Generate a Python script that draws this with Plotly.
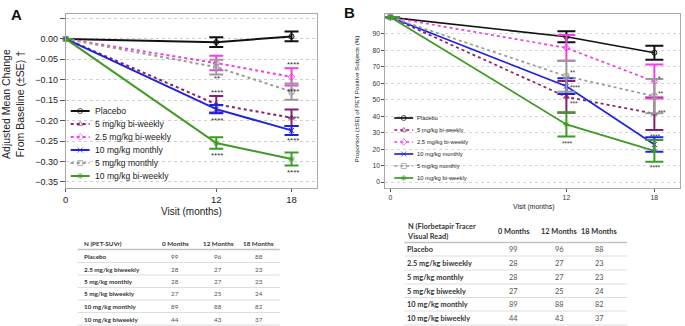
import plotly.graph_objects as go

W, H = 685, 326

# ---------------------------------------------------------------- data
months = [0, 12, 18]

series_names = ["Placebo", "5 mg/kg bi-weekly", "2.5 mg/kg bi-weekly",
                "10 mg/kg monthly", "5 mg/kg monthly", "10 mg/kg bi-weekly"]

# Panel A: adjusted mean change from baseline in PET-SUVr
suvr_placebo = [0.0, -0.008, 0.006]
suvr_5_biweekly = [0.0, -0.160, -0.193]
suvr_2p5_biweekly = [0.0, -0.059, -0.093]
suvr_10_monthly = [0.0, -0.172, -0.224]
suvr_5_monthly = [0.0, -0.069, -0.129]
suvr_10_biweekly = [0.0, -0.255, -0.294]

suvr_se_placebo = [None, 0.012, 0.012]
suvr_se_5_biweekly = [None, 0.020, 0.020]
suvr_se_2p5_biweekly = [None, 0.018, 0.021]
suvr_se_10_monthly = [None, 0.010, 0.011]
suvr_se_5_monthly = [None, 0.018, 0.020]
suvr_se_10_biweekly = [None, 0.014, 0.016]

# Panel B: proportion of PET positive subjects (%)
pos_placebo = [100.0, 88.2, 78.5]
pos_5_biweekly = [100.0, 51.7, 41.5]
pos_2p5_biweekly = [100.0, 81.4, 61.0]
pos_10_monthly = [100.0, 58.2, 22.8]
pos_5_monthly = [100.0, 64.2, 52.1]
pos_10_biweekly = [100.0, 35.0, 18.9]

pos_se_placebo = [None, 3.3, 4.2]
pos_se_5_biweekly = [None, 9.7, 9.9]
pos_se_2p5_biweekly = [None, 7.8, 10.3]
pos_se_10_monthly = [None, 4.8, 4.4]
pos_se_5_monthly = [None, 9.4, 10.4]
pos_se_10_biweekly = [None, 7.3, 6.6]

# significance marks
sig_a_month = [12, 12, 12, 12, 18, 18, 18, 18, 18]
sig_a_level = [-0.092, -0.127, -0.194, -0.280, -0.057, -0.125, -0.191, -0.245, -0.323]
sig_a_marks = ["**", "****", "****", "****", "****", "****", "****", "****", "****"]

sig_b_month = [12, 12, 12, 12, 18, 18, 18, 18, 18]
sig_b_level = [67.5, 58.4, 48.7, 24.9, 63.9, 54.8, 43.7, 28.9, 9.9]
sig_b_marks = ["**", "****", "***", "****", "*", "**", "***", "****", "****"]
sig_b_side = ["right", "right", "right", "below", "right", "right", "right", "below", "below"]

# sample size tables
table_groups = ["Placebo", "2.5 mg/kg biweekly", "5 mg/kg monthly",
                "5 mg/kg biweekly", "10 mg/kg monthly", "10 mg/kg biweekly"]
table_columns = ["0 Months", "12 Months", "18 Months"]
n_suvr_0 = [99, 28, 28, 27, 89, 44]
n_suvr_12 = [96, 27, 27, 25, 88, 43]
n_suvr_18 = [88, 23, 23, 24, 82, 37]
n_visual_0 = [99, 28, 28, 27, 89, 44]
n_visual_12 = [96, 27, 27, 25, 88, 43]
n_visual_18 = [88, 23, 23, 24, 82, 37]

a_yticks = [0.05, 0.0, -0.05, -0.10, -0.15, -0.20, -0.25, -0.30, -0.35]
b_yticks = [0, 10, 20, 30, 40, 50, 60, 70, 80, 90]
x_ticks = [0, 12, 18]

# ---------------------------------------------------------------- styles
FONT = "Liberation Sans"
TFONT = "Lato"
colors = ["#111111", "#86206f", "#f23ee6", "#1e22e4", "#9a9a9a", "#3d9a25"]
dashes = ["solid", "dot", "dot", "solid", "dot", "solid"]
symbols = ["circle-open", "triangle-up-open", "diamond-open",
           "x-thin-open", "square-open", "asterisk-open"]

a_values = [suvr_placebo, suvr_5_biweekly, suvr_2p5_biweekly,
            suvr_10_monthly, suvr_5_monthly, suvr_10_biweekly]
a_errors = [suvr_se_placebo, suvr_se_5_biweekly, suvr_se_2p5_biweekly,
            suvr_se_10_monthly, suvr_se_5_monthly, suvr_se_10_biweekly]
b_values = [pos_placebo, pos_5_biweekly, pos_2p5_biweekly,
            pos_10_monthly, pos_5_monthly, pos_10_biweekly]
b_errors = [pos_se_placebo, pos_se_5_biweekly, pos_se_2p5_biweekly,
            pos_se_10_monthly, pos_se_5_monthly, pos_se_10_biweekly]


def px(x):
    return x / W


def py(y):
    return 1 - y / H


fig = go.Figure()

# panel traces
for i, name in enumerate(series_names):
    fig.add_trace(go.Scatter(
        x=months, y=a_values[i], mode="lines+markers", name=name,
        xaxis="x", yaxis="y", showlegend=False, cliponaxis=False,
        line=dict(color=colors[i], width=2, dash=dashes[i]),
        marker=dict(symbol=symbols[i], size=5, color=colors[i],
                    line=dict(color=colors[i], width=1)),
        error_y=dict(type="data", array=a_errors[i], visible=True,
                     color=colors[i], thickness=2, width=7),
    ))
    fig.add_trace(go.Scatter(
        x=months, y=b_values[i], mode="lines+markers", name=name,
        xaxis="x2", yaxis="y2", showlegend=False, cliponaxis=False,
        line=dict(color=colors[i], width=1.7, dash=dashes[i]),
        marker=dict(symbol=symbols[i], size=5, color=colors[i],
                    line=dict(color=colors[i], width=1)),
        error_y=dict(type="data", array=b_errors[i], visible=True,
                     color=colors[i], thickness=2, width=9),
    ))

shapes = []
annotations = []

# white boxes behind the in-plot legends (hide gridlines)
shapes.append(dict(type="rect", xref="paper", yref="paper", layer="between",
                   x0=px(64), x1=px(167), y0=py(187), y1=py(101),
                   fillcolor="white", line=dict(width=0)))
shapes.append(dict(type="rect", xref="paper", yref="paper", layer="between",
                   x0=px(386), x1=px(481), y0=py(187), y1=py(109),
                   fillcolor="white", line=dict(width=0)))

# legends drawn on a full-figure pixel overlay
legend_specs = [
    dict(x0=68, x1=87, tx=90, y0=111, dy=13, size=8.6, mk=5, lw=2),
    dict(x0=393, x1=412, tx=414, y0=118, dy=12, size=5.8, mk=5, lw=1.7),
]
for spec in legend_specs:
    for i, name in enumerate(series_names):
        yy = spec["y0"] + spec["dy"] * i
        fig.add_trace(go.Scatter(
            x=[spec["x0"], (spec["x0"] + spec["x1"]) / 2, spec["x1"]],
            y=[yy, yy, yy], mode="lines+markers", xaxis="x3", yaxis="y3",
            showlegend=False, hoverinfo="skip",
            line=dict(color=colors[i], width=spec["lw"], dash=dashes[i]),
            marker=dict(symbol=symbols[i], size=[0, spec["mk"], 0], color=colors[i],
                        line=dict(color=colors[i], width=1)),
        ))
        annotations.append(dict(
            x=px(spec["tx"]), y=py(yy), xref="paper", yref="paper",
            text=name, showarrow=False, xanchor="left", yanchor="middle",
            font=dict(family=FONT, size=spec["size"], color="#222222")))

# significance marks, panel A
for m, lv, mk in zip(sig_a_month, sig_a_level, sig_a_marks):
    annotations.append(dict(x=m, y=lv, xref="x", yref="y", text=mk, showarrow=False,
                            xanchor="center", yanchor="middle", xshift=1, yshift=-2,
                            font=dict(family=FONT, size=8, color="#333333")))

# significance marks, panel B
for m, lv, mk, side in zip(sig_b_month, sig_b_level, sig_b_marks, sig_b_side):
    right = side == "right"
    annotations.append(dict(x=m, y=lv, xref="x2", yref="y2", text=mk, showarrow=False,
                            xanchor="left" if right else "center", yanchor="middle",
                            xshift=2 if right else 1, yshift=-2,
                            font=dict(family=FONT, size=6.5, color="#333333")))

# panel letters and axis titles
annotations += [
    dict(x=px(6), y=py(4), xref="paper", yref="paper", text="<b>A</b>",
         showarrow=False, xanchor="left", yanchor="top",
         font=dict(family=FONT, size=15, color="#111111")),
    dict(x=px(340), y=py(2), xref="paper", yref="paper", text="<b>B</b>",
         showarrow=False, xanchor="left", yanchor="top",
         font=dict(family=FONT, size=15, color="#111111")),
    dict(x=px(10), y=py(104), xref="paper", yref="paper",
         text="Adjusted Mean Change<br>From Baseline (±SE) †", textangle=-90,
         showarrow=False, xanchor="center", yanchor="middle",
         font=dict(family=FONT, size=10.5, color="#222222")),
    dict(x=px(189), y=py(211), xref="paper", yref="paper", text="Visit (months)",
         showarrow=False, xanchor="center", yanchor="middle",
         font=dict(family=FONT, size=10, color="#222222")),
    dict(x=px(355), y=py(99), xref="paper", yref="paper",
         text="Proportion (±SE) of PET Positive Subjects (%)", textangle=-90,
         showarrow=False, xanchor="center", yanchor="middle",
         font=dict(family=FONT, size=6.2, color="#222222")),
    dict(x=px(533), y=py(207), xref="paper", yref="paper", text="Visit (months)",
         showarrow=False, xanchor="center", yanchor="middle",
         font=dict(family=FONT, size=6.8, color="#222222")),
]


# sample size tables
def draw_table(title, c0, c12, c18, left, right, name_x, col_x, head_y,
               row_y, lines_y, head_line_y, fsize):
    annotations.append(dict(x=px(name_x), y=py(head_y), xref="paper", yref="paper",
                            text="<b>" + title + "</b>", showarrow=False,
                            xanchor="left", yanchor="middle", align="left",
                            font=dict(family=TFONT, size=fsize, color="#333333")))
    for cx, col in zip(col_x, table_columns):
        annotations.append(dict(x=px(cx), y=py(head_y), xref="paper", yref="paper",
                                text="<b>" + col + "</b>", showarrow=False,
                                xanchor="center", yanchor="middle",
                                font=dict(family=TFONT, size=fsize, color="#333333")))
    for r, grp in enumerate(table_groups):
        annotations.append(dict(x=px(name_x), y=py(row_y[r]), xref="paper", yref="paper",
                                text="<b>" + grp + "</b>", showarrow=False,
                                xanchor="left", yanchor="middle",
                                font=dict(family=TFONT, size=fsize, color="#333333")))
        for cx, vals in zip(col_x, (c0, c12, c18)):
            annotations.append(dict(x=px(cx), y=py(row_y[r]), xref="paper", yref="paper",
                                    text=str(vals[r]), showarrow=False,
                                    xanchor="center", yanchor="middle",
                                    font=dict(family=TFONT, size=fsize, color="#555555")))
    shapes.append(dict(type="line", xref="paper", yref="paper",
                       x0=px(left), x1=px(right), y0=py(head_line_y), y1=py(head_line_y),
                       line=dict(color="#c4c4c4", width=1.5)))
    for ly in lines_y:
        shapes.append(dict(type="line", xref="paper", yref="paper",
                           x0=px(left), x1=px(right), y0=py(ly), y1=py(ly),
                           line=dict(color="#dedede", width=1)))


draw_table("N (PET-SUVr)", n_suvr_0, n_suvr_12, n_suvr_18,
           left=75, right=278, name_x=79, col_x=[173, 216, 257], head_y=243,
           row_y=[256, 269, 281, 293, 306, 319],
           lines_y=[262.5, 275, 287.5, 300, 312.5, 325], head_line_y=249.5, fsize=6.3)
draw_table("N (Florbetapir Tracer<br>Visual Read)", n_visual_0, n_visual_12, n_visual_18,
           left=403, right=627, name_x=404, col_x=[513, 559, 599], head_y=231,
           row_y=[249, 263, 277, 291, 304, 318],
           lines_y=[256, 270, 284, 297.5, 311, 325], head_line_y=242.5, fsize=7.4)

axis_common = dict(showline=True, mirror=True, linecolor="#a8a8a8", linewidth=1,
                   ticks="outside", tickcolor="#555555", zeroline=False)

a_ticktext = ["" if v > 0 else f"{v:.2f}".replace("-", "\u2212") for v in a_yticks]

fig.update_layout(
    width=W, height=H, autosize=False,
    margin=dict(l=0, r=0, t=0, b=0, pad=0),
    paper_bgcolor="white", plot_bgcolor="rgba(0,0,0,0)",
    showlegend=False,
    xaxis=dict(domain=[px(63), px(315)], range=[0, 20], anchor="y",
               tickvals=x_ticks, ticklen=3, showgrid=False,
               tickfont=dict(family=FONT, size=9.5, color="#222222"), **axis_common),
    yaxis=dict(domain=[py(188), py(14)], range=[-0.365, 0.061], anchor="x",
               tickvals=a_yticks, ticktext=a_ticktext, ticklen=5,
               showgrid=True, gridcolor="#cfcfcf", griddash="dot", gridwidth=1,
               tickfont=dict(family=FONT, size=9, color="#222222"), **axis_common),
    xaxis2=dict(domain=[px(384), px(680)], range=[-0.35, 19.75], anchor="y2",
                tickvals=x_ticks, ticklen=3, showgrid=False,
                tickfont=dict(family=FONT, size=6.8, color="#333333"), **axis_common),
    yaxis2=dict(domain=[py(188), py(14)], range=[-3.6, 102], anchor="x2",
                tickvals=b_yticks, ticklen=3,
                showgrid=True, gridcolor="#d6d6d6", griddash="dot", gridwidth=1,
                tickfont=dict(family=FONT, size=6.8, color="#333333"), **axis_common),
    xaxis3=dict(domain=[0, 1], range=[0, W], anchor="y3", visible=False, fixedrange=True),
    yaxis3=dict(domain=[0, 1], range=[H, 0], anchor="x3", visible=False, fixedrange=True),
    shapes=shapes,
    annotations=annotations,
)

fig.write_html("out.html")
